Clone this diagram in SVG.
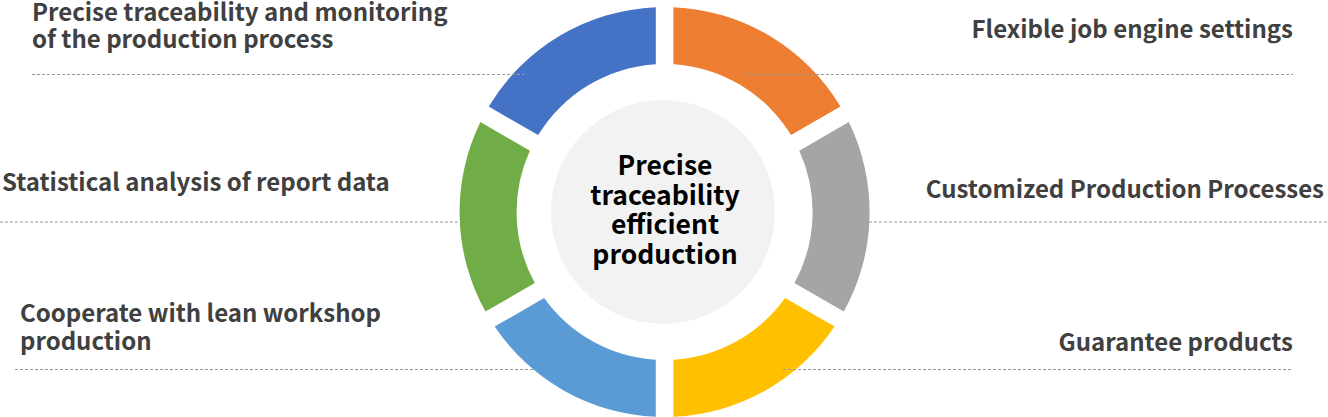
<svg xmlns="http://www.w3.org/2000/svg" width="1328" height="417" viewBox="0 0 1328 417">
<style>
.lbl{font-family:"Noto Sans CJK SC","Noto Sans",sans-serif;font-weight:700;font-size:24px;fill:#404040}
.ctr{font-family:"Noto Sans CJK SC","Noto Sans",sans-serif;font-weight:700;font-size:26.5px;fill:#000;text-anchor:middle}
.dash{stroke:#9a9a9a;stroke-width:1;stroke-dasharray:3 2;fill:none}
</style>
<rect width="1328" height="417" fill="#fff"/>
<g id="ring">
<g id="seg-orange"><path d="M673.4,7.19 A205,205 0 0 1 840.44,106.62 L791.06,135.12 A148,148 0 0 0 673.4,64.26 Z" fill="#ED7D31"/></g>
<g id="seg-gray"><path d="M848.83,122.09 A205,205 0 0 1 843.78,311.59 L794.41,283.09 A148,148 0 0 0 799.30,150.69 Z" fill="#A5A5A5"/></g>
<g id="seg-yellow"><path d="M834.57,326.60 A205,205 0 0 1 673.4,416.81 L673.4,359.74 A148,148 0 0 0 785.04,298.00 Z" fill="#FFC000"/></g>
<g id="seg-lightblue"><path d="M655.8,416.81 A205,205 0 0 1 494.63,326.60 L544.16,298.00 A148,148 0 0 0 655.8,359.74 Z" fill="#5B9BD5"/></g>
<g id="seg-green"><path d="M485.42,311.59 A205,205 0 0 1 480.37,122.09 L529.90,150.69 A148,148 0 0 0 534.79,283.09 Z" fill="#70AD47"/></g>
<g id="seg-blue"><path d="M488.76,106.62 A205,205 0 0 1 655.8,7.19 L655.8,64.26 A148,148 0 0 0 538.14,135.12 Z" fill="#4472C4"/></g>
</g>
<g id="center">
<circle cx="663" cy="212" r="112" fill="#F2F2F2"/>
<text class="ctr" x="665" y="175">Precise</text>
<text class="ctr" x="665" y="204.5">traceability</text>
<text class="ctr" x="665" y="234">efficient</text>
<text class="ctr" x="665" y="263.5">production</text>
</g>
<g id="connectors">
<line class="dash" x1="32" y1="74.5" x2="524" y2="74.5"/>
<line class="dash" x1="746" y1="74.5" x2="1293" y2="74.5"/>
<line class="dash" x1="0" y1="222" x2="461" y2="222"/>
<line class="dash" x1="869" y1="222" x2="1328" y2="222"/>
<line class="dash" x1="15" y1="369.5" x2="533" y2="369.5"/>
<line class="dash" x1="783" y1="369.5" x2="1293" y2="369.5"/>
</g>
<g id="label-tl"><text class="lbl" x="32" y="20.5">Precise traceability and monitoring</text><text class="lbl" x="32" y="48">of the production process</text></g>
<g id="label-ml"><text class="lbl" x="2" y="191">Statistical analysis of report data</text></g>
<g id="label-bl"><text class="lbl" x="20" y="322.3">Cooperate with lean workshop</text><text class="lbl" x="20" y="350">production</text></g>
<g id="label-tr"><text class="lbl" x="1293" y="38.3" text-anchor="end">Flexible job engine settings</text></g>
<g id="label-mr"><text class="lbl" x="1324" y="197.7" text-anchor="end">Customized Production Processes</text></g>
<g id="label-br"><text class="lbl" x="1293" y="350.7" text-anchor="end">Guarantee products</text></g>
</svg>
